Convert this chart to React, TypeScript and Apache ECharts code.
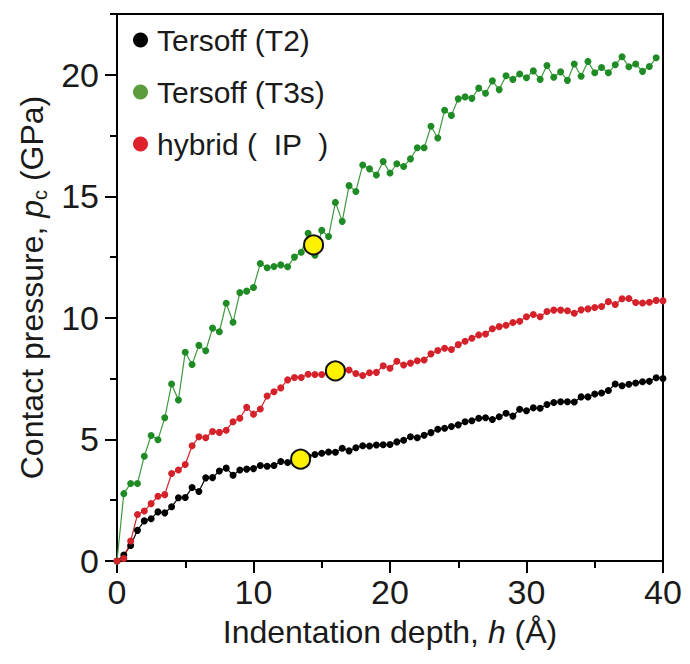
import React, { useEffect, useRef } from 'react';
import * as echarts from 'echarts';

const FONT = '"Liberation Sans", Arial, sans-serif';

// Indentation depth h (Å)
const depth = [0, 0.5, 1, 1.5, 2, 2.5, 3, 3.5, 4, 4.5, 5, 5.5, 6, 6.5, 7, 7.5, 8, 8.5, 9, 9.5, 10, 10.5, 11, 11.5, 12, 12.5, 13, 13.5, 14, 14.5, 15, 15.5, 16, 16.5, 17, 17.5, 18, 18.5, 19, 19.5, 20, 20.5, 21, 21.5, 22, 22.5, 23, 23.5, 24, 24.5, 25, 25.5, 26, 26.5, 27, 27.5, 28, 28.5, 29, 29.5, 30, 30.5, 31, 31.5, 32, 32.5, 33, 33.5, 34, 34.5, 35, 35.5, 36, 36.5, 37, 37.5, 38, 38.5, 39, 39.5, 40];

// Contact pressure (GPa)
const tersoffT2 = [0, 0.25, 0.64, 1.26, 1.65, 1.74, 2.02, 1.98, 2.23, 2.6, 2.61, 3.02, 2.86, 3.42, 3.43, 3.7, 3.82, 3.53, 3.74, 3.78, 3.8, 3.93, 3.9, 3.93, 4.09, 4.05, 4.12, 4.2, 4.3, 4.38, 4.43, 4.48, 4.47, 4.64, 4.53, 4.66, 4.74, 4.73, 4.77, 4.78, 4.79, 4.9, 4.97, 5.11, 5.07, 5.17, 5.28, 5.42, 5.46, 5.53, 5.6, 5.73, 5.77, 5.87, 5.89, 5.82, 5.93, 6.08, 5.96, 6.24, 6.18, 6.3, 6.28, 6.44, 6.52, 6.55, 6.55, 6.54, 6.75, 6.75, 6.87, 6.91, 7.01, 7.28, 7.21, 7.27, 7.32, 7.37, 7.39, 7.54, 7.51];

const tersoffT3s = [0, 2.77, 3.19, 3.19, 4.31, 5.16, 4.99, 5.89, 7.28, 6.62, 8.59, 8.08, 8.87, 8.65, 9.58, 9.43, 10.6, 9.82, 11.04, 11.1, 11.25, 12.24, 12.06, 12.11, 12.18, 12.1, 12.5, 12.7, 13.48, 12.58, 13.6, 13.35, 14.75, 13.97, 15.44, 15.2, 16.29, 16.13, 15.88, 16.43, 15.96, 16.34, 16.23, 16.54, 17.0, 17.0, 17.88, 17.4, 18.54, 18.33, 19.01, 19.09, 19.03, 19.45, 19.24, 19.75, 19.39, 19.96, 19.81, 20.03, 19.88, 20.16, 19.81, 20.38, 19.9, 20.12, 19.77, 20.44, 19.94, 20.55, 20.08, 20.3, 20.08, 20.41, 20.74, 20.33, 20.44, 20.14, 20.34, 20.7];

const hybridIP = [0, 0.1, 0.82, 1.91, 2.06, 2.36, 2.66, 2.73, 3.6, 3.74, 3.97, 4.74, 5.11, 5.07, 5.33, 5.29, 5.38, 5.73, 5.87, 6.32, 6.04, 6.25, 6.79, 6.96, 7.12, 7.45, 7.55, 7.55, 7.68, 7.67, 7.67, 7.72, 7.8, 7.85, 7.86, 7.71, 7.63, 7.74, 7.76, 8.03, 7.93, 8.22, 8.06, 8.14, 8.24, 8.27, 8.52, 8.66, 8.75, 8.7, 8.9, 9.04, 9.16, 9.3, 9.34, 9.55, 9.64, 9.7, 9.81, 9.86, 10.05, 10.14, 10.05, 10.26, 10.32, 10.32, 10.29, 10.19, 10.33, 10.37, 10.43, 10.47, 10.67, 10.55, 10.79, 10.8, 10.63, 10.61, 10.64, 10.72, 10.7];

// Highlighted (yellow) points
const highlightDepth = [14.4, 16.0, 13.45];
const highlightPressure = [13.0, 7.82, 4.19];

const xMajorInterval = 10;
const yMajorTicks = [0, 5, 10, 15, 20];
const yMinorTicks = [2.5, 7.5, 12.5, 17.5, 22.5];

const seriesNames = ['Tersoff (T2)', 'Tersoff (T3s)', 'hybrid (  IP  )'];

const pair = (ys: number[]) => ys.map((y, i) => [depth[i], y]);

export default function App() {
  const ref = useRef<HTMLDivElement>(null);
  useEffect(() => {
    const chart = echarts.init(ref.current!, null, { renderer: 'svg' });
    const axisLine = { color: '#000', width: 2 };
    const textColor = '#1a1a1a';
    chart.setOption({
      animation: false,
      backgroundColor: '#ffffff',
      grid: {
        left: 117, right: 27, top: 14, bottom: 103,
        show: true, borderColor: '#000', borderWidth: 2, backgroundColor: 'transparent',
      },
      legend: {
        orient: 'vertical',
        left: 128,
        top: 17,
        itemWidth: 15,
        itemHeight: 15,
        itemGap: 16,
        icon: 'circle',
        selectedMode: false,
        textStyle: { fontFamily: FONT, fontSize: 30, color: textColor, lineHeight: 36, padding: [0, 0, 0, 4] },
        data: [
          { name: seriesNames[0], itemStyle: { color: '#000000' } },
          { name: seriesNames[1], itemStyle: { color: '#5c9c3c' } },
          { name: seriesNames[2], itemStyle: { color: '#e0222c' } },
        ],
      },
      xAxis: {
        type: 'value',
        min: 0,
        max: 40,
        interval: xMajorInterval,
        axisLine: { show: true, lineStyle: axisLine },
        axisTick: { show: true, length: 12, lineStyle: axisLine },
        minorTick: { show: true, splitNumber: 2, length: 7, lineStyle: axisLine },
        splitLine: { show: false },
        minorSplitLine: { show: false },
        axisLabel: { fontFamily: FONT, fontSize: 34, color: textColor, margin: 14 },
        name: '{n|Indentation depth, }{i|h}{n| (Å)}',
        nameLocation: 'middle',
        nameGap: 55,
        nameTextStyle: {
          fontFamily: FONT, fontSize: 32, color: textColor,
          rich: {
            n: { fontFamily: FONT, fontSize: 32, color: textColor },
            i: { fontFamily: FONT, fontSize: 32, color: textColor, fontStyle: 'italic' },
          },
        },
      },
      yAxis: [
        {
          type: 'value',
          min: 0,
          max: 22.5,
          position: 'left',
          axisLine: { show: true, lineStyle: axisLine },
          axisTick: { show: true, length: 12, lineStyle: axisLine, customValues: yMajorTicks },
          splitLine: { show: false },
          axisLabel: { fontFamily: FONT, fontSize: 34, color: textColor, margin: 18, customValues: yMajorTicks },
          name: '{n|Contact pressure, }{i|p}{s|c}{n| (GPa)}',
          nameLocation: 'middle',
          nameGap: 65,
          nameTextStyle: {
            fontFamily: FONT, fontSize: 32, color: textColor,
            rich: {
              n: { fontFamily: FONT, fontSize: 32, color: textColor, lineHeight: 36 },
              i: { fontFamily: FONT, fontSize: 32, color: textColor, fontStyle: 'italic', lineHeight: 36 },
              s: { fontFamily: FONT, fontSize: 20, color: textColor, verticalAlign: 'bottom', lineHeight: 20 },
            },
          },
        },
        {
          type: 'value',
          min: 0,
          max: 22.5,
          position: 'left',
          axisLine: { show: false },
          axisTick: { show: true, length: 7, lineStyle: axisLine, customValues: yMinorTicks },
          axisLabel: { show: false },
          splitLine: { show: false },
        },
      ],
      series: [
        {
          name: seriesNames[0], type: 'line', data: pair(tersoffT2),
          symbol: 'circle', symbolSize: 7, showSymbol: true, silent: true,
          itemStyle: { color: '#000000' }, lineStyle: { color: '#000000', width: 1.2 }, z: 3,
        },
        {
          name: seriesNames[1], type: 'line', data: pair(tersoffT3s),
          symbol: 'circle', symbolSize: 7, showSymbol: true, silent: true,
          itemStyle: { color: '#1f8b24' }, lineStyle: { color: '#3e9a3e', width: 1.2 }, z: 3,
        },
        {
          name: seriesNames[2], type: 'line', data: pair(hybridIP),
          symbol: 'circle', symbolSize: 7, showSymbol: true, silent: true,
          itemStyle: { color: '#d4212a' }, lineStyle: { color: '#d4212a', width: 1.2 }, z: 3,
        },
        {
          name: 'highlight', type: 'scatter',
          data: highlightDepth.map((h, i) => [h, highlightPressure[i]]),
          symbol: 'circle', symbolSize: 19, silent: true,
          itemStyle: { color: '#fff200', borderColor: '#111', borderWidth: 2, opacity: 1 }, z: 10,
        },
      ],
    });
    return () => chart.dispose();
  }, []);
  return <div ref={ref} style={{ position: 'fixed', left: 0, top: 0, width: 690, height: 664 }} />;
}
